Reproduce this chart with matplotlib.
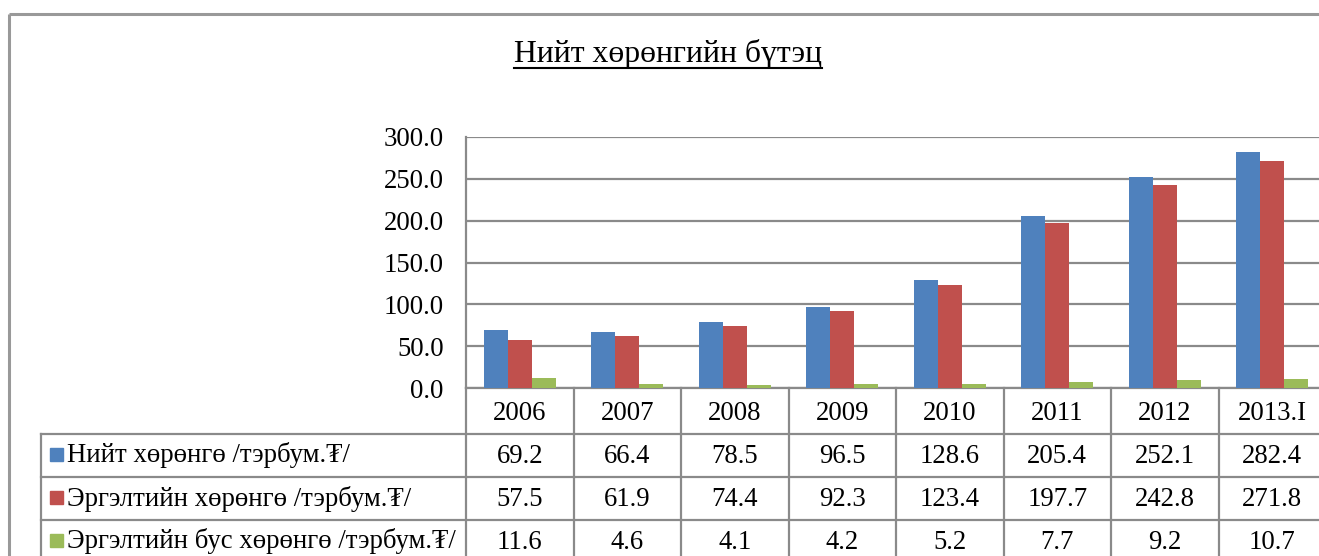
import numpy as np
import matplotlib
matplotlib.use('Agg')
from matplotlib import pyplot as plt
from matplotlib.patches import Rectangle

plt.rcParams['font.family'] = ['Liberation Serif', 'DejaVu Serif', 'DejaVu Sans']

# data
years = ['2006', '2007', '2008', '2009', '2010', '2011', '2012', '2013.I']
niit = [69.2, 66.4, 78.5, 96.5, 128.6, 205.4, 252.1, 282.4]
ergeltiin = [57.5, 61.9, 74.4, 92.3, 123.4, 197.7, 242.8, 271.8]
ergeltiin_bus = [11.6, 4.6, 4.1, 4.2, 5.2, 7.7, 9.2, 10.7]
series_names = ['Нийт хөрөнгө /тэрбум.₮/',
                'Эргэлтийн хөрөнгө /тэрбум.₮/',
                'Эргэлтийн бус хөрөнгө /тэрбум.₮/']
colors = ['#4F81BD', '#C0504D', '#9BBB59']
title = 'Нийт хөрөнгийн бүтэц'

W, H = 1319, 556
fig = plt.figure(figsize=(W / 100, H / 100), dpi=100)

# layout in pixels
plot_l, plot_t, plot_b = 466, 137, 388
cat_w = 107.5
n = len(years)
grid_col = '#8a8a8a'
fs = 19.3

ax = fig.add_axes([plot_l / W, (H - plot_b) / H, n * cat_w / W, (plot_b - plot_t) / H])
x = np.arange(n)
bw = 0.222
for k, vals in enumerate([niit, ergeltiin, ergeltiin_bus]):
    ax.bar(x + (k - 1) * bw, vals, bw, color=colors[k], zorder=3)
ax.set_xlim(-0.5, n - 0.5)
ax.set_ylim(0, 300)
ax.set_yticks(np.arange(0, 301, 50))
ax.set_yticklabels(['%.1f' % v for v in np.arange(0, 301, 50)], fontsize=fs)
ax.tick_params(axis='y', length=0, pad=16)
ax.set_xticks([])
ax.yaxis.grid(True, color=grid_col, linewidth=1.6, zorder=0)
for s in ['top', 'right']:
    ax.spines[s].set_visible(False)
for s in ['left', 'bottom']:
    ax.spines[s].set_color(grid_col)
    ax.spines[s].set_linewidth(1.6)

# overlay in pixel coords for frame, title and data table
ov = fig.add_axes([0, 0, 1, 1])
ov.set_xlim(0, W)
ov.set_ylim(H, 0)
ov.axis('off')
ov.patch.set_visible(False)

# outer chart frame
ov.plot([9, W], [14, 14], color='#999999', lw=2.2, solid_capstyle='butt')
ov.plot([9, 9], [14, H], color='#999999', lw=2.2, solid_capstyle='butt')

# title with underline
t = ov.text(668, 62, title, ha='center', va='baseline', fontsize=22.8)
fig.canvas.draw()
bb = t.get_window_extent().transformed(ov.transData.inverted())
ov.plot([bb.x0, bb.x1], [68, 68], color='black', lw=1.5)

# data table
row_y = [plot_b, 434, 477, 520, 563]
leg_l = 41
lw = 1.6
for i in range(n + 1):
    xx = plot_l + i * cat_w
    ov.plot([xx, xx], [plot_b, H], color=grid_col, lw=lw)
for yy in row_y[1:4]:
    ov.plot([leg_l, W], [yy, yy], color=grid_col, lw=lw)
ov.plot([leg_l, leg_l], [row_y[1], H], color=grid_col, lw=lw)

for i, yr in enumerate(years):
    cx = plot_l + (i + 0.5) * cat_w
    ov.text(cx, (row_y[0] + row_y[1]) / 2 + 2, yr, ha='center', va='center', fontsize=fs)
    for r, vals in enumerate([niit, ergeltiin, ergeltiin_bus]):
        cy = (row_y[r + 1] + row_y[r + 2]) / 2 + 1
        ov.text(cx, cy, '%.1f' % vals[i], ha='center', va='center', fontsize=fs)

for r, name in enumerate(series_names):
    cy = (row_y[r + 1] + row_y[r + 2]) / 2
    ov.add_patch(Rectangle((50, cy - 7.5), 13, 13, color=colors[r]))
    ov.text(67, cy, name, ha='left', va='center', fontsize=fs)

plt.savefig('out.png', dpi=100)
